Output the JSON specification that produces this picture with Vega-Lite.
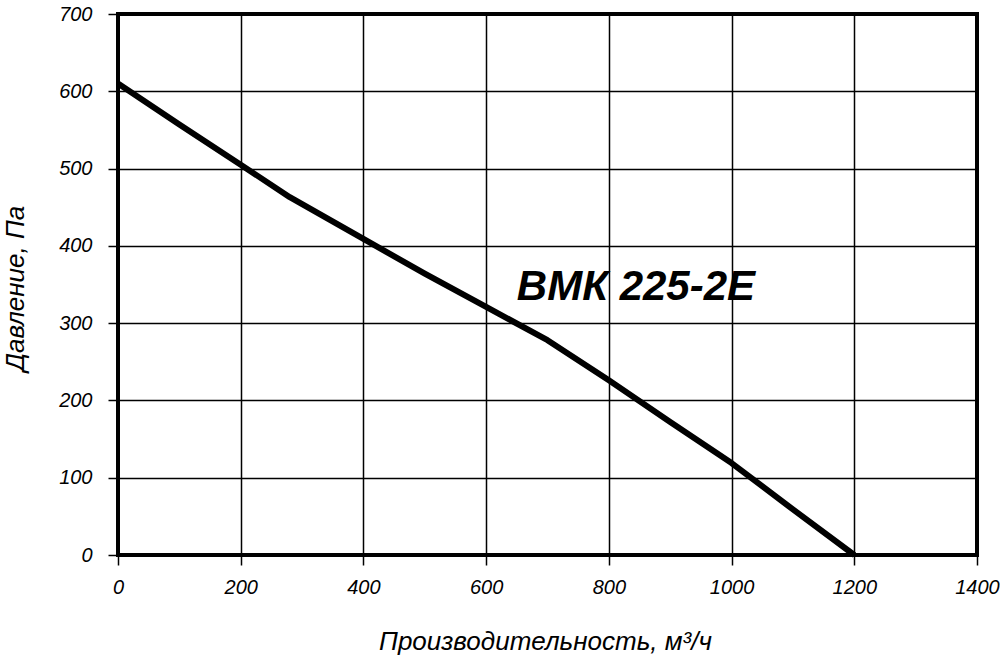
{
  "$schema": "https://vega.github.io/schema/vega-lite/v6.json",
  "autosize": {"type": "none"},
  "padding": {"left": 118, "top": 14, "right": 23, "bottom": 104},
  "width": 859,
  "height": 541,
  "background": "white",
  "datasets": {
    "curve": [
      {"flow": 0, "pressure": 610},
      {"flow": 100, "pressure": 557},
      {"flow": 200, "pressure": 505},
      {"flow": 280, "pressure": 463},
      {"flow": 400, "pressure": 409},
      {"flow": 500, "pressure": 364},
      {"flow": 600, "pressure": 321},
      {"flow": 700, "pressure": 278},
      {"flow": 800, "pressure": 226},
      {"flow": 900, "pressure": 172},
      {"flow": 1000, "pressure": 119},
      {"flow": 1100, "pressure": 59},
      {"flow": 1200, "pressure": 0}
    ],
    "label": [
      {"flow": 650, "pressure": 330, "name": "ВМК 225-2Е"}
    ]
  },
  "layer": [
    {
      "data": {"name": "curve"},
      "mark": {"type": "line", "color": "black", "strokeWidth": 6, "strokeJoin": "round"},
      "encoding": {
        "x": {
          "field": "flow",
          "type": "quantitative",
          "scale": {"domain": [0, 1400], "nice": false},
          "axis": {
            "values": [0, 200, 400, 600, 800, 1000, 1200, 1400],
            "format": "d",
            "labelFlush": false,
            "labelOverlap": false,
            "title": "Производительность, м³/ч",
            "titleX": 427,
            "titleY": 86,
            "titleBaseline": "middle",
            "labelPadding": 12
          }
        },
        "y": {
          "field": "pressure",
          "type": "quantitative",
          "scale": {"domain": [0, 700], "nice": false},
          "axis": {
            "values": [0, 100, 200, 300, 400, 500, 600, 700],
            "format": "d",
            "labelFlush": false,
            "labelOverlap": false,
            "title": "Давление, Па",
            "titleX": -103,
            "titleY": 274,
            "titleBaseline": "middle",
            "titleAlign": "center",
            "labelPadding": 16
          }
        }
      }
    },
    {
      "data": {"name": "label"},
      "mark": {
        "type": "text",
        "align": "left",
        "baseline": "alphabetic",
        "font": "Liberation Sans",
        "fontSize": 42,
        "fontWeight": "bold",
        "fontStyle": "italic",
        "color": "black"
      },
      "encoding": {
        "x": {"field": "flow", "type": "quantitative"},
        "y": {"field": "pressure", "type": "quantitative"},
        "text": {"field": "name"}
      }
    }
  ],
  "config": {
    "view": {"stroke": "black", "strokeWidth": 4},
    "axis": {
      "domain": false,
      "grid": true,
      "gridColor": "black",
      "gridOpacity": 1,
      "gridWidth": 1.5,
      "tickColor": "black",
      "tickWidth": 1.5,
      "tickSize": 10,
      "labelFont": "Liberation Sans",
      "labelFontStyle": "italic",
      "labelFontSize": 20,
      "labelColor": "black",
      "titleFont": "Liberation Sans",
      "titleFontStyle": "italic",
      "titleFontWeight": "normal",
      "titleFontSize": 26,
      "titleColor": "black"
    }
  }
}
